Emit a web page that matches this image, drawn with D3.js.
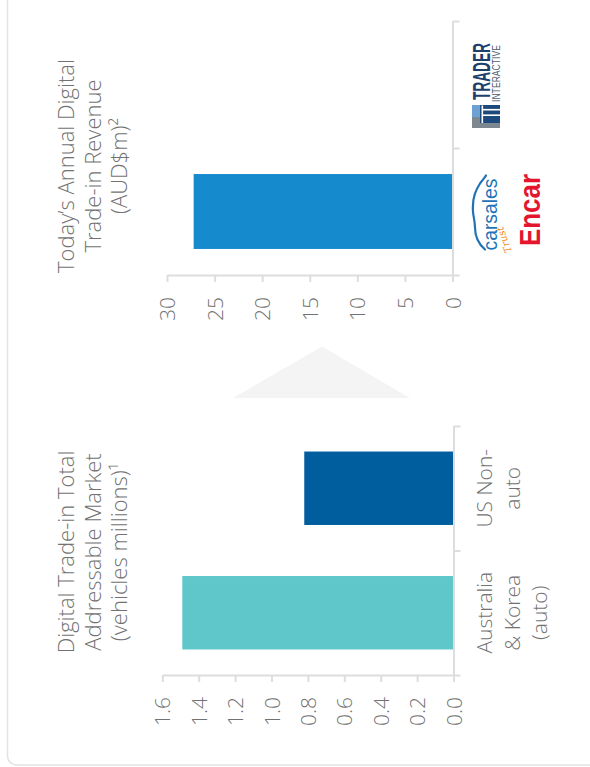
<!DOCTYPE html>
<html>
<head>
<meta charset="utf-8">
<script src="https://cdn.jsdelivr.net/npm/d3@7"></script>
<style>
  html, body { margin: 0; padding: 0; background: #ffffff; }
  svg { display: block; }
  text { font-family: "Open Sans", "Noto Sans", sans-serif; }
</style>
</head>
<body>
<svg id="chart" width="590" height="767"></svg>
<script>
// ---- data ----
// Upper panel: today's annual digital trade-in revenue (AUD$m)
const revenueCategories = ["Trader Interactive", "carsales / Encar"];
const revenueValues = [null, 27.2];
const revenueTicks = [0, 5, 10, 15, 20, 25, 30];
const revenueTitle = ["Today\u2019s Annual Digital", "Trade-in Revenue", "(AUD$m)\u00B2"];

// Lower panel: digital trade-in total addressable market (vehicles millions)
const tamCategories = ["US Non-auto", "Australia & Korea (auto)"];
const tamLabelLines = [["US Non-", "auto"], ["Australia", "& Korea", "(auto)"]];
const tamValues = [0.82, 1.49];
const tamTicks = [0, 0.2, 0.4, 0.6, 0.8, 1.0, 1.2, 1.4, 1.6];
const tamTitle = ["Digital Trade-in Total", "Addressable Market", "(vehicles millions)\u00B9"];

// ---- styles ----
const revenueColors = ["#158bce", "#158bce"];
const tamColors = ["#005e9e", "#5fc6c9"];
const axisColor = "#dddddd";
const textColor = "#727272";
const labelFont = 21;

const svg = d3.select("#chart");

// card background
svg.append("rect")
  .attr("x", 7.5).attr("y", -20)
  .attr("width", 620).attr("height", 785)
  .attr("rx", 9).attr("ry", 9)
  .attr("fill", "#ffffff")
  .attr("stroke", "#e3e3e3")
  .attr("stroke-width", 1.5);

// connector arrow between panels
svg.append("path")
  .attr("d", d3.line()([[233, 398], [322, 346.5], [410, 398]]) + "Z")
  .attr("fill", "#f4f4f4");

// Draws one horizontal bar panel whose value axis runs leftwards from zero
function drawPanel(opt) {
  const x = d3.scaleLinear().domain(opt.domain).range([opt.zeroX, opt.maxX]);
  const y = d3.scaleBand()
    .domain(opt.categories)
    .range([opt.top, opt.bottom])
    .paddingInner(0.41)
    .paddingOuter(0.205);

  const g = svg.append("g");

  // bars
  const rows = opt.categories.map((c, i) => ({ c, v: opt.values[i], color: opt.colors[i] }))
    .filter(d => d.v != null);
  g.selectAll("rect.bar").data(rows).join("rect")
    .attr("class", "bar")
    .attr("x", d => x(d.v))
    .attr("y", d => y(d.c))
    .attr("width", d => x(0) - x(d.v))
    .attr("height", y.bandwidth())
    .attr("fill", d => d.color);

  // value axis (below the bars, labels turned upright)
  const xAxis = d3.axisBottom(x)
    .tickValues(opt.ticks)
    .tickFormat(opt.format)
    .tickSize(7)
    .tickSizeOuter(0);
  const gx = g.append("g")
    .attr("transform", `translate(0,${opt.bottom})`)
    .call(xAxis);
  gx.select(".domain").attr("stroke", axisColor).attr("stroke-width", 2);
  gx.selectAll(".tick line").attr("stroke", axisColor).attr("stroke-width", 2);
  gx.selectAll(".tick text")
    .attr("transform", "rotate(-90)")
    .attr("x", -22).attr("y", 0).attr("dy", "0.36em")
    .attr("text-anchor", "end")
    .attr("fill", textColor)
    .attr("font-size", labelFont)
    .attr("font-weight", 300)
    .style("font-family", "'Open Sans', sans-serif");

  // category axis with ticks on the band boundaries
  const yEdge = d3.scaleLinear().domain([0, opt.categories.length]).range([opt.top, opt.bottom]);
  const yAxis = d3.axisRight(yEdge)
    .tickValues(d3.range(opt.categories.length + 1))
    .tickFormat("")
    .tickSize(7)
    .tickSizeOuter(0);
  const gy = g.append("g")
    .attr("transform", `translate(${opt.zeroX},0)`)
    .call(yAxis);
  gy.select(".domain").attr("stroke", axisColor).attr("stroke-width", 2);
  gy.selectAll(".tick line").attr("stroke", axisColor).attr("stroke-width", 2);

  // panel title, three upright lines
  opt.title.forEach((line, i) => {
    g.append("text")
      .attr("transform", `translate(${74 + i * 26.5},${opt.titleY}) rotate(-90)`)
      .attr("text-anchor", "middle")
      .attr("fill", textColor)
      .attr("font-size", 22)
      .attr("font-weight", 300)
      .text(line);
  });

  return { x, y, g };
}

// ---- upper panel ----
const rev = drawPanel({
  categories: revenueCategories,
  values: revenueValues,
  colors: revenueColors,
  domain: [0, 30],
  zeroX: 452.5, maxX: 167,
  top: 21, bottom: 275,
  ticks: revenueTicks,
  format: d3.format("d"),
  title: revenueTitle,
  titleY: 166
});

// ---- lower panel ----
const tam = drawPanel({
  categories: tamCategories,
  values: tamValues,
  colors: tamColors,
  domain: [0, 1.6],
  zeroX: 453.5, maxX: 162.3,
  top: 426, bottom: 675,
  ticks: tamTicks,
  format: d3.format(".1f"),
  title: tamTitle,
  titleY: 552
});

// lower panel category labels
tamCategories.forEach((c, i) => {
  const cy = tam.y(c) + tam.y.bandwidth() / 2;
  tamLabelLines[i].forEach((line, j) => {
    tam.g.append("text")
      .attr("transform", `translate(${453.5 + 38.5 + j * 27.5},${cy}) rotate(-90)`)
      .attr("text-anchor", "middle")
      .attr("fill", textColor)
      .attr("font-size", labelFont)
      .attr("font-weight", 300)
      .text(line);
  });
});

// upper panel category marks: company wordmarks, drawn upright in a turned frame
const narrow = "'Liberation Sans Narrow', 'Liberation Sans', Arial, sans-serif";

function bandCenter(i) {
  const c = revenueCategories[i];
  return rev.y(c) + rev.y.bandwidth() / 2;
}

// Trader Interactive
{
  const cy = (21 + 148) / 2;
  const lg = svg.append("g").attr("transform", `translate(472,${cy}) rotate(-90)`);
  // TI square mark
  lg.append("rect").attr("x", -43.5).attr("y", 0).attr("width", 23).attr("height", 28).attr("fill", "#1d4a7c");
  lg.append("rect").attr("x", -43.5).attr("y", 0).attr("width", 11).attr("height", 8).attr("fill", "#7d8790");
  lg.append("rect").attr("x", -32.5).attr("y", 0).attr("width", 12).attr("height", 8).attr("fill", "#6fa0d2");
  lg.append("rect").attr("x", -43.5).attr("y", 8).attr("width", 5).attr("height", 20).attr("fill", "#7d8790");
  lg.append("rect").attr("x", -38.5).attr("y", 9.5).attr("width", 17.5).attr("height", 1.6).attr("fill", "#ffffff");
  lg.append("rect").attr("x", -31.5).attr("y", 11).attr("width", 1.6).attr("height", 17).attr("fill", "#ffffff");
  lg.append("rect").attr("x", -26).attr("y", 11).attr("width", 1.6).attr("height", 17).attr("fill", "#ffffff");
  lg.append("text")
    .attr("x", -15.5).attr("y", 18)
    .attr("textLength", 57).attr("lengthAdjust", "spacingAndGlyphs")
    .attr("font-size", 23.5).attr("font-weight", 700)
    .attr("fill", "#1d3f6c")
    .style("font-family", narrow)
    .text("TRADER");
  lg.append("text")
    .attr("x", -17.5).attr("y", 27.5)
    .attr("textLength", 57).attr("lengthAdjust", "spacingAndGlyphs")
    .attr("font-size", 11).attr("font-weight", 400)
    .attr("fill", "#4f5d70")
    .style("font-family", narrow)
    .text("INTERACTIVE");
}

// carsales + Encar
{
  const cy = bandCenter(1);
  const lg = svg.append("g").attr("transform", `translate(472,${cy}) rotate(-90)`);
  // car silhouette line
  lg.append("path")
    .attr("d", "M-38,13 C-32,6 -24,3 -16,3 C-8,3 -2,0 6,1 C14,1 22,4 28,8 C32,11 34,13 36,14")
    .attr("fill", "none")
    .attr("stroke", "#1f73b7")
    .attr("stroke-width", 2.2)
    .attr("stroke-linecap", "round");
  lg.append("text")
    .attr("x", -39).attr("y", 25)
    .attr("textLength", 72).attr("lengthAdjust", "spacingAndGlyphs")
    .attr("font-size", 20).attr("font-weight", 400)
    .attr("fill", "#1f73b7")
    .style("font-family", narrow)
    .text("carsales");
  lg.append("text")
    .attr("transform", "translate(-40,40) rotate(-20)")
    .attr("font-size", 10).attr("font-style", "italic")
    .attr("fill", "#f08b25")
    .style("font-family", "'DejaVu Serif', serif")
    .text("Trust");
  lg.append("text")
    .attr("x", -34.5).attr("y", 68)
    .attr("textLength", 72).attr("lengthAdjust", "spacingAndGlyphs")
    .attr("font-size", 30).attr("font-weight", 700)
    .attr("fill", "#e3162e")
    .style("font-family", narrow)
    .text("Encar");
}
</script>
</body>
</html>
